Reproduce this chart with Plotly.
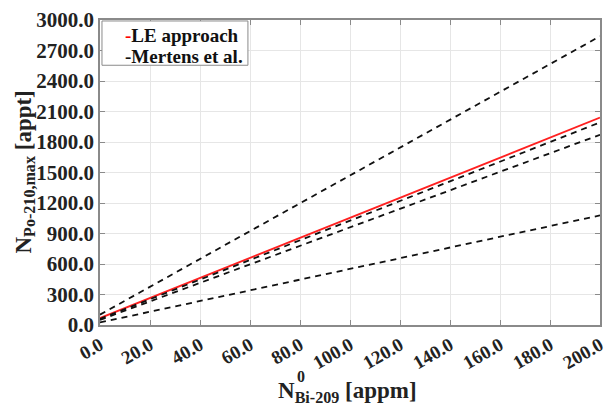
import plotly.graph_objects as go

x_vals = [0.0, 200.0]
le_approach = [68.0, 2040.0]
mertens_1 = [102.0, 2840.0]
mertens_2 = [60.0, 1993.0]
mertens_3 = [50.0, 1871.0]
mertens_4 = [25.0, 1078.0]

x_ticks = [0, 20, 40, 60, 80, 100, 120, 140, 160, 180, 200]
y_ticks = [0, 300, 600, 900, 1200, 1500, 1800, 2100, 2400, 2700, 3000]

FONT = "Liberation Serif, Times New Roman, serif"

L, R, T, B = 100, 607, 15, 325


def px(xp):
    return (xp - L) / (R - L)


def py(yp):
    return (B - yp) / (B - T)


fig = go.Figure()
fig.add_trace(go.Scatter(x=x_vals, y=le_approach, mode="lines",
                         line=dict(color="#ff2020", width=1.8),
                         name="LE approach", showlegend=False))
for i, ys in enumerate([mertens_1, mertens_2, mertens_3, mertens_4]):
    fig.add_trace(go.Scatter(x=x_vals, y=ys, mode="lines",
                             line=dict(color="#111111", width=1.8, dash="6px,5px"),
                             name="Mertens et al.", showlegend=False))

axis_common = dict(showline=True, linecolor="#8a8a8a", linewidth=1.5, mirror="ticks",
                   ticks="inside", ticklen=5, tickcolor="#8a8a8a",
                   showgrid=True, gridcolor="#e6e6e6", gridwidth=1, zeroline=False)

fig.update_xaxes(range=[0, 200], tickvals=x_ticks,
                 ticktext=[f"<b>{v:.1f}</b>" for v in x_ticks],
                 tickangle=-30, tickfont=dict(family=FONT, size=19, color="#222"),
                 **axis_common)
fig.update_yaxes(range=[0, 3000], tickvals=y_ticks,
                 ticktext=[f"<b>{v:.1f}</b>" for v in y_ticks],
                 tickfont=dict(family=FONT, size=21, color="#222"),
                 **axis_common)

# axis titles
fig.add_annotation(text="<b>N<sub>Po-210,max</sub> [appt]</b>", xref="paper", yref="paper",
                   x=px(23), y=0.5, xanchor="center", yanchor="middle",
                   textangle=-90, showarrow=False,
                   font=dict(family=FONT, size=23, color="#222"))
fig.add_annotation(text="<b>N<sub>Bi-209</sub> [appm]</b>", xref="paper", yref="paper",
                   x=px(351), y=py(393), xanchor="center", yanchor="middle",
                   showarrow=False,
                   font=dict(family=FONT, size=23, color="#222"))
fig.add_annotation(text="<b>0</b>", xref="paper", yref="paper",
                   x=px(304), y=py(377), xanchor="center", yanchor="middle",
                   showarrow=False,
                   font=dict(family=FONT, size=16, color="#222"))

# legend box
fig.add_shape(type="rect", xref="paper", yref="paper",
              x0=px(102), x1=px(250), y0=py(61), y1=py(16),
              line=dict(color="#8a8a8a", width=1), fillcolor="white", layer="above")
legend_rows = [("LE approach", "#ff0000", 31), ("Mertens et al.", "#111111", 52)]
for label, col, yrow in legend_rows:
    fig.add_annotation(
        text=f"<b><span style='color:{col}'>-</span>{label}</b>",
        xref="paper", yref="paper", x=px(123), y=py(yrow), xanchor="left", yanchor="middle",
        align="left", showarrow=False, font=dict(family=FONT, size=19, color="#111"))

fig.update_layout(
    width=615, height=412,
    margin=dict(l=L, r=615 - R, t=T, b=412 - B),
    paper_bgcolor="white", plot_bgcolor="white",
    showlegend=False,
)

fig.write_html("out.html")
